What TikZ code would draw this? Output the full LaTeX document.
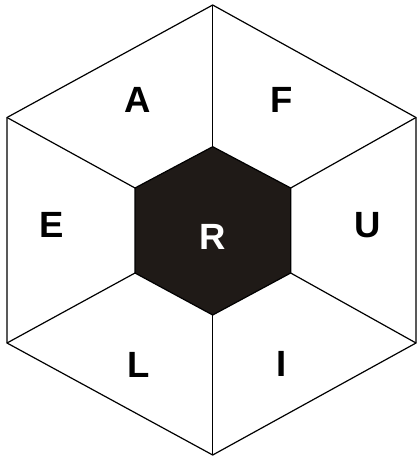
\documentclass[tikz,border=0pt]{standalone}
\usepackage{fontspec}
\setmainfont{Liberation Sans}
\usepackage{tikz}
\usetikzlibrary{calc}
\definecolor{coredark}{HTML}{1F1A17}

\begin{document}
\begin{tikzpicture}[
    x=1pt, y=-1pt,
    edge/.style={draw=black, line width=1.2pt, line join=miter},
    letter/.style={font=\fontsize{36.5}{36.5}\selectfont\bfseries, inner sep=0pt, anchor=base},
    core/.style={fill=coredark, draw=black, line width=1.2pt}
  ]
    \useasboundingbox (0,0) rectangle (417,458);
    %% ---- outer hexagon corners ----
    \coordinate (o1) at (212.7,5);
    \coordinate (o2) at (416,117.5);
    \coordinate (o3) at (416,343);
    \coordinate (o4) at (212.7,455);
    \coordinate (o5) at (7,343);
    \coordinate (o6) at (7,117.5);
    %% ---- inner hexagon corners ----
    \coordinate (i1) at (212.7,146.7);
    \coordinate (i2) at (290.7,188);
    \coordinate (i3) at (290.7,273);
    \coordinate (i4) at (212.7,315);
    \coordinate (i5) at (135,273);
    \coordinate (i6) at (135,188);

    \draw[edge] (o1) -- (o2) -- (o3) -- (o4) -- (o5) -- (o6) -- cycle;
    \foreach \k in {1,...,6}
      \draw[edge] (o\k) -- (i\k);
    \draw[core] (i1) -- (i2) -- (i3) -- (i4) -- (i5) -- (i6) -- cycle;

    %% ---- letters ----
    \node[letter] (la) at (138,112.3) {A};
    \node[letter] (lf) at (282,112.3) {F};
    \node[letter] (le) at (51.5,237.3) {E};
    \node[letter, text=white] (lr) at (212.5,249) {R};
    \node[letter] (lu) at (367.7,237.5) {U};
    \node[letter] (ll) at (138.5,377) {L};
    \node[letter] (li) at (282,376.5) {I};
  \end{tikzpicture}
\end{document}
